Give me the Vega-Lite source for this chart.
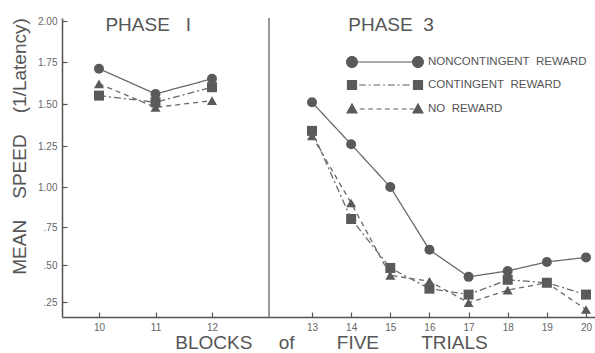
{
  "$schema": "https://vega.github.io/schema/vega-lite/v6.json",
  "width": 533,
  "height": 299,
  "autosize": "none",
  "padding": {"left": 62, "top": 18, "right": 0, "bottom": 36},
  "background": "#ffffff",
  "config": {
    "view": {"stroke": null},
    "font": "Liberation Sans",
    "axis": {"grid": false, "domainColor": "#555", "domainWidth": 1.5, "tickColor": "#555", "tickWidth": 1.2, "labelColor": "#666", "labelFontSize": 10, "titleColor": "#555", "titleFontWeight": "normal", "titleFontSize": 19, "titleFont": "Liberation Sans", "labelFont": "Liberation Sans"}
  },
  "resolve": {"scale": {"shape": "independent"}},
  "datasets": {
    "points": [
      {"block": 10, "speed": 1.71, "condition": "NONCONTINGENT REWARD", "phase": "1"},
      {"block": 11, "speed": 1.56, "condition": "NONCONTINGENT REWARD", "phase": "1"},
      {"block": 12, "speed": 1.65, "condition": "NONCONTINGENT REWARD", "phase": "1"},
      {"block": 13, "speed": 1.51, "condition": "NONCONTINGENT REWARD", "phase": "3"},
      {"block": 14, "speed": 1.26, "condition": "NONCONTINGENT REWARD", "phase": "3"},
      {"block": 15, "speed": 1.00, "condition": "NONCONTINGENT REWARD", "phase": "3"},
      {"block": 16, "speed": 0.60, "condition": "NONCONTINGENT REWARD", "phase": "3"},
      {"block": 17, "speed": 0.42, "condition": "NONCONTINGENT REWARD", "phase": "3"},
      {"block": 18, "speed": 0.46, "condition": "NONCONTINGENT REWARD", "phase": "3"},
      {"block": 19, "speed": 0.52, "condition": "NONCONTINGENT REWARD", "phase": "3"},
      {"block": 20, "speed": 0.55, "condition": "NONCONTINGENT REWARD", "phase": "3"},
      {"block": 10, "speed": 1.55, "condition": "CONTINGENT REWARD", "phase": "1"},
      {"block": 11, "speed": 1.51, "condition": "CONTINGENT REWARD", "phase": "1"},
      {"block": 12, "speed": 1.60, "condition": "CONTINGENT REWARD", "phase": "1"},
      {"block": 13, "speed": 1.34, "condition": "CONTINGENT REWARD", "phase": "3"},
      {"block": 14, "speed": 0.80, "condition": "CONTINGENT REWARD", "phase": "3"},
      {"block": 15, "speed": 0.48, "condition": "CONTINGENT REWARD", "phase": "3"},
      {"block": 16, "speed": 0.34, "condition": "CONTINGENT REWARD", "phase": "3"},
      {"block": 17, "speed": 0.30, "condition": "CONTINGENT REWARD", "phase": "3"},
      {"block": 18, "speed": 0.40, "condition": "CONTINGENT REWARD", "phase": "3"},
      {"block": 19, "speed": 0.38, "condition": "CONTINGENT REWARD", "phase": "3"},
      {"block": 20, "speed": 0.30, "condition": "CONTINGENT REWARD", "phase": "3"},
      {"block": 10, "speed": 1.62, "condition": "NO REWARD", "phase": "1"},
      {"block": 11, "speed": 1.48, "condition": "NO REWARD", "phase": "1"},
      {"block": 12, "speed": 1.52, "condition": "NO REWARD", "phase": "1"},
      {"block": 13, "speed": 1.31, "condition": "NO REWARD", "phase": "3"},
      {"block": 14, "speed": 0.90, "condition": "NO REWARD", "phase": "3"},
      {"block": 15, "speed": 0.43, "condition": "NO REWARD", "phase": "3"},
      {"block": 16, "speed": 0.39, "condition": "NO REWARD", "phase": "3"},
      {"block": 17, "speed": 0.245, "condition": "NO REWARD", "phase": "3"},
      {"block": 18, "speed": 0.33, "condition": "NO REWARD", "phase": "3"},
      {"block": 19, "speed": 0.38, "condition": "NO REWARD", "phase": "3"},
      {"block": 20, "speed": 0.20, "condition": "NO REWARD", "phase": "3"}
    ],
    "phases": [
      {"block": 10.87, "speed": 1.976, "label": "PHASE\u00a0\u00a0\u00a0I"},
      {"block": 15.02, "speed": 1.976, "label": "PHASE\u00a0\u00a03"}
    ],
    "divider": [
      {"block": 12.5}
    ]
  },
  "layer": [
    {
      "data": {"name": "points"},
      "mark": {"type": "line", "color": "#6a6a6a", "strokeWidth": 1.3},
      "encoding": {
        "x": {"field": "block", "type": "quantitative",
              "scale": {"domain": [9.35, 10, 12, 12.5, 13, 20, 20.23], "range": [0, 37, 150, 207, 250, 524, 533], "nice": false, "zero": false},
              "axis": {"values": [10, 11, 12, 13, 14, 15, 16, 17, 18, 19, 20], "tickSize": -5, "labelPadding": 10,
                       "title": "BLOCKS\u00a0\u00a0\u00a0\u00a0\u00a0of\u00a0\u00a0\u00a0\u00a0\u00a0\u00a0\u00a0\u00a0FIVE\u00a0\u00a0\u00a0\u00a0\u00a0\u00a0\u00a0\u00a0TRIALS",
                       "titleX": 269, "titleY": 25, "titleBaseline": "middle", "titleAlign": "center"}},
        "y": {"field": "speed", "type": "quantitative",
              "scale": {"domain": [0.15, 0.25, 0.5, 0.75, 1.0, 1.25, 1.5, 1.75, 2.0, 2.02], "range": [299, 284, 247, 209, 169, 128, 86, 44, 3, 0], "nice": false, "zero": false},
              "axis": {"values": [0.25, 0.5, 0.75, 1.0, 1.25, 1.5, 1.75, 2.0], "tickSize": -5, "labelPadding": 10,
                       "labelExpr": "datum.value >= 1 ? format(datum.value, '.2f') : slice(format(datum.value, '.2f'), 1)",
                       "title": "MEAN\u00a0\u00a0\u00a0\u00a0SPEED\u00a0\u00a0\u00a0\u00a0(1/Latency)",
                       "titleX": -43, "titleY": 128, "titleBaseline": "middle", "titleAlign": "center", "titleAngle": 270}},
        "detail": {"field": "phase"},
        "strokeDash": {"field": "condition", "type": "nominal",
                       "scale": {"domain": ["CONTINGENT REWARD", "NO REWARD", "NONCONTINGENT REWARD"], "range": [[7, 3, 2, 3], [5, 4], [1, 0]]},
                       "legend": null}
      }
    },
    {
      "data": {"name": "points"},
      "mark": {"type": "point", "filled": true, "color": "#5a5a5a", "opacity": 1, "size": 100},
      "encoding": {
        "x": {"field": "block", "type": "quantitative"},
        "y": {"field": "speed", "type": "quantitative"},
        "shape": {"field": "condition", "type": "nominal",
                  "scale": {"domain": ["CONTINGENT REWARD", "NO REWARD", "NONCONTINGENT REWARD"], "range": ["square", "triangle-up", "circle"]},
                  "legend": null}
      }
    },
    {
      "data": {"name": "points"},
      "mark": {"type": "point", "filled": true, "color": "#5a5a5a", "opacity": 0, "size": 100},
      "encoding": {
        "x": {"field": "block", "type": "quantitative"},
        "y": {"field": "speed", "type": "quantitative"},
        "shape": {"field": "condition", "type": "nominal",
                  "scale": {"domain": ["NONCONTINGENT REWARD", "CONTINGENT REWARD", "NO REWARD"],
                            "range": ["M1,0A1,1,0,1,1,-1,0A1,1,0,1,1,1,0ZM1,-0.1L10,-0.1L10,0.1L1,0.1ZM12,0A1,1,0,1,1,10,0A1,1,0,1,1,12,0Z",
                                      "M-0.85,-0.85L0.85,-0.85L0.85,0.85L-0.85,0.85ZM1.2,-0.1L2.3,-0.1L2.3,0.1L1.2,0.1ZM2.8,-0.1L3.1,-0.1L3.1,0.1L2.8,0.1ZM3.6,-0.1L4.7,-0.1L4.7,0.1L3.6,0.1ZM5.2,-0.1L5.5,-0.1L5.5,0.1L5.2,0.1ZM6,-0.1L7.1,-0.1L7.1,0.1L6,0.1ZM7.6,-0.1L7.9,-0.1L7.9,0.1L7.6,0.1ZM8.4,-0.1L9.6,-0.1L9.6,0.1L8.4,0.1ZM10.15,-0.85L11.85,-0.85L11.85,0.85L10.15,0.85Z",
                                      "M0,-1.05L1,0.75L-1,0.75ZM1.3,-0.1L2.1,-0.1L2.1,0.1L1.3,0.1ZM2.7,-0.1L3.5,-0.1L3.5,0.1L2.7,0.1ZM4.1,-0.1L4.9,-0.1L4.9,0.1L4.1,0.1ZM5.5,-0.1L6.3,-0.1L6.3,0.1L5.5,0.1ZM6.9,-0.1L7.7,-0.1L7.7,0.1L6.9,0.1ZM8.3,-0.1L9.1,-0.1L9.1,0.1L8.3,0.1ZM9.6,-0.1L10.3,-0.1L10.3,0.1L9.6,0.1ZM11,-1.05L12,0.75L10,0.75Z"]},
                  "legend": {
                    "title": null, "orient": "none", "legendX": 284, "legendY": 38, "padding": 0,
                    "symbolSize": 144, "symbolStrokeWidth": 0, "symbolFillColor": "#5a5a5a", "symbolOpacity": 1,
                    "labelOffset": 70, "rowPadding": 11,
                    "labelFont": "Liberation Sans", "labelFontSize": 11.5, "labelColor": "#555", "labelLimit": 300,
                    "labelExpr": "replace(datum.label, ' ', '\u00a0\u00a0')"
                  }}
      }
    },
    {
      "data": {"name": "divider"},
      "mark": {"type": "rule", "color": "#555", "strokeWidth": 1.2},
      "encoding": {"x": {"field": "block", "type": "quantitative"}}
    },
    {
      "data": {"name": "phases"},
      "mark": {"type": "text", "font": "Liberation Sans", "fontSize": 19, "color": "#555", "baseline": "middle", "align": "center"},
      "encoding": {
        "x": {"field": "block", "type": "quantitative"},
        "y": {"field": "speed", "type": "quantitative"},
        "text": {"field": "label"}
      }
    }
  ]
}
